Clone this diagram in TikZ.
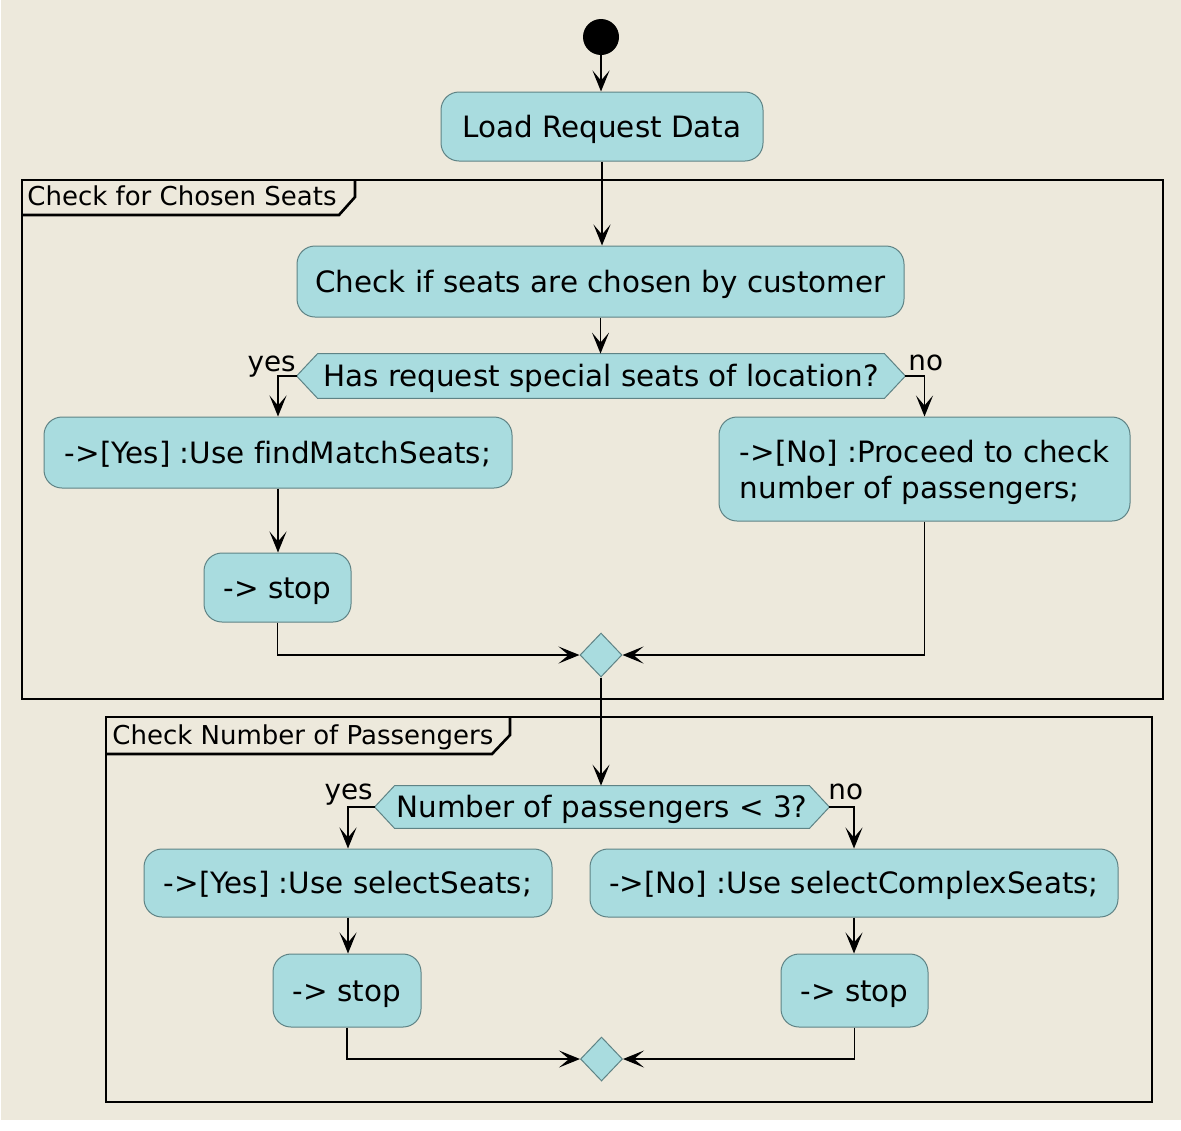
\documentclass[tikz,border=0pt]{standalone}
\usepackage{fontspec}
\setmainfont{DejaVu Sans}[Ligatures=NoCommon]
\usetikzlibrary{arrows.meta,shapes.geometric,calc}
\definecolor{bgc}{HTML}{EDE9DC}
\definecolor{actfill}{HTML}{A9DCDF}
\definecolor{actline}{HTML}{5F8385}
\pgfdeclarelayer{bg}
\pgfsetlayers{bg,main}
\begin{document}
\begin{tikzpicture}[x=0.5pt,y=-0.5pt,
  actbox/.style={draw=actline, fill=actfill, line width=0.5pt, rounded corners=9pt, inner sep=0pt, font=\fontsize{14.7}{18}\selectfont},
  act/.style={actbox, text height=12pt, text depth=1.5pt},
  dectext/.style={inner sep=0pt, font=\fontsize{14.7}{18}\selectfont, text height=12pt, text depth=1.5pt},
  hexa/.style={draw=actline, fill=actfill, line width=0.5pt},
  merge/.style={diamond, draw=actline, fill=actfill, line width=0.5pt, minimum width=21pt, minimum height=22pt, inner sep=0pt},
  arr/.style={draw=black, line width=0.9pt, -{Stealth[length=10.5pt,width=8.5pt,inset=5pt]}},
  frameline/.style={draw=black, line width=1.3pt},
  framelabel/.style={inner sep=0pt, font=\fontsize{13}{15}\selectfont, anchor=base west},
  branch/.style={inner sep=0pt, font=\fontsize{13.9}{16}\selectfont},
]
\useasboundingbox (0,0) rectangle (1181,1130);
\begin{pgfonlayer}{bg}
\fill[bgc] (1,0) rectangle (1181,1120);
\end{pgfonlayer}

% frames
\draw[frameline] (22,180) rectangle (1163,699);
\draw[frameline] (22,215) -- (339,215) -- (355,197) -- (355,180);
\node[framelabel] (f1) at (27,205) {Check for Chosen Seats};
\draw[frameline] (106,717) rectangle (1152,1102);
\draw[frameline] (106,754) -- (492,754) -- (510,735) -- (510,717);
\node[framelabel] (f2) at (112,744) {Check Number of Passengers};

% nodes
\node[circle, fill=black, minimum size=18pt, inner sep=0pt] (start) at (601,37) {};
\node[act, minimum width=161pt, minimum height=34.5pt] (load) at (602,126.5) {Load Request Data};
\node[act, minimum width=303.5pt, minimum height=35.5pt] (check) at (600.5,281.5) {Check if seats are chosen by customer};
\node[dectext, minimum width=304pt, minimum height=22pt] (d1) at (601,376) {Has request special seats of location?};
\begin{pgfonlayer}{bg}
\draw[hexa] (d1.west) -- ([xshift=10.5pt]d1.north west) -- ([xshift=-10.5pt]d1.north east) -- (d1.east) -- ([xshift=-10.5pt]d1.south east) -- ([xshift=10.5pt]d1.south west) -- cycle;
\end{pgfonlayer}
\node[act, minimum width=234pt, minimum height=35.5pt] (fm) at (278,452.5) {->[Yes] :Use findMatchSeats;};
\node[actbox, align=left, minimum width=205.5pt, minimum height=52pt] (pr) at (924.5,469) {\rule{0pt}{14.2pt}->[No] :Proceed to check\\number of passengers;};
\node[act, minimum width=73.5pt, minimum height=34.5pt] (stop1) at (277.5,587.5) {-> stop};
\node[merge] (m1) at (601,655) {};

\node[dectext, minimum width=227pt, minimum height=21pt] (d2) at (602,807) {Number of passengers < 3?};
\begin{pgfonlayer}{bg}
\draw[hexa] (d2.west) -- ([xshift=10pt]d2.north west) -- ([xshift=-10pt]d2.north east) -- (d2.east) -- ([xshift=-10pt]d2.south east) -- ([xshift=10pt]d2.south west) -- cycle;
\end{pgfonlayer}
\node[act, minimum width=204pt, minimum height=34pt] (ss) at (348,883) {->[Yes] :Use selectSeats;};
\node[act, minimum width=264pt, minimum height=34pt] (cs) at (854,883) {->[No] :Use selectComplexSeats;};
\node[act, minimum width=74pt, minimum height=36.5pt] (stop2) at (347,990.5) {-> stop};
\node[act, minimum width=73.5pt, minimum height=36.5pt] (stop3) at (854.5,990.5) {-> stop};
\node[merge] (m2) at (601.5,1059) {};

% branch labels
\node[branch, anchor=base east] (y1) at (296,371) {yes};
\node[branch, anchor=base west] (n1) at (908,370) {no};
\node[branch, anchor=base east] (y2) at (373,799) {yes};
\node[branch, anchor=base west] (n2) at (828,799) {no};

% connectors
\draw[arr] (start.south) -- (start.south |- load.north);
\draw[arr] (load.south) -- (load.south |- check.north);
\draw[arr] (check.south) -- (check.south |- d1.north);
\draw[arr] (d1.west) -| (fm.north);
\draw[arr] (d1.east) -| (pr.north);
\draw[arr] (fm.south) -- (fm.south |- stop1.north);
\draw[arr] (stop1.south) |- (m1.west);
\draw[arr] (pr.south) |- (m1.east);
\draw[arr] (m1.south) -- (m1.south |- d2.north);
\draw[arr] (d2.west) -| (ss.north);
\draw[arr] (d2.east) -| (cs.north);
\draw[arr] (ss.south) -- (ss.south |- stop2.north);
\draw[arr] (cs.south) -- (cs.south |- stop3.north);
\draw[arr] (stop2.south) |- (m2.west);
\draw[arr] (stop3.south) |- (m2.east);
\end{tikzpicture}
\end{document}
